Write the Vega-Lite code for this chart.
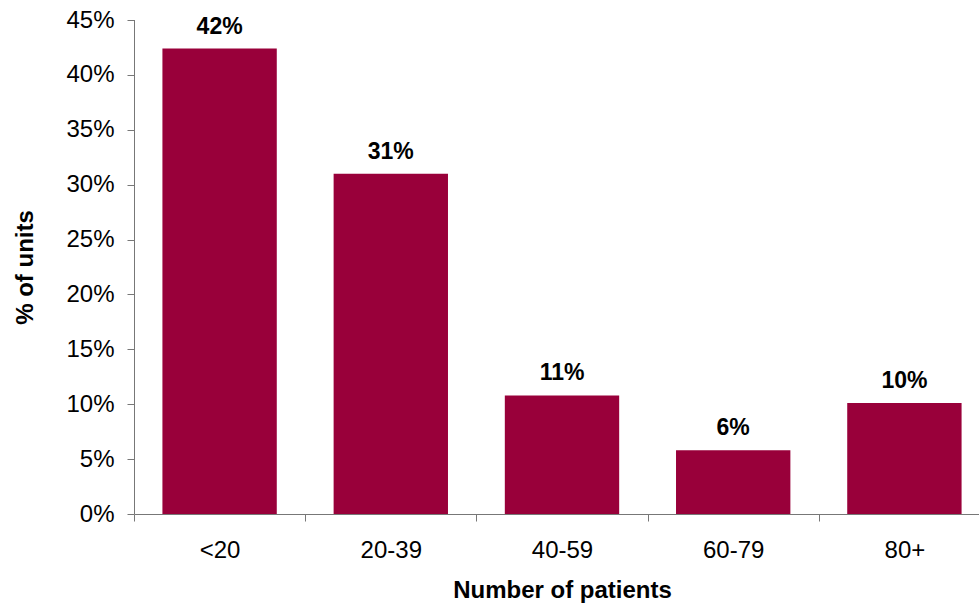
{
  "$schema": "https://vega.github.io/schema/vega-lite/v6.json",
  "width": 845,
  "height": 494,
  "autosize": {"type": "none"},
  "padding": {"left": 134, "top": 20, "right": 0, "bottom": 89},
  "background": "white",
  "config": {"view": {"stroke": null}, "font": "Liberation Sans"},
  "data": {
    "values": [
      {"group": "<20", "share": 0.424},
      {"group": "20-39", "share": 0.31},
      {"group": "40-59", "share": 0.108},
      {"group": "60-79", "share": 0.058},
      {"group": "80+", "share": 0.101}
    ]
  },
  "encoding": {
    "x": {
      "field": "group",
      "type": "nominal",
      "sort": null,
      "scale": {"range": [0, 856], "paddingInner": 0, "paddingOuter": 0},
      "axis": {
        "title": "Number of patients",
        "labelAngle": 0,
        "tickBand": "extent",
        "domainColor": "#777777",
        "tickColor": "#777777",
        "tickSize": 7,
        "labelFontSize": 24,
        "labelColor": "black",
        "labelPadding": 17,
        "titleFontSize": 24,
        "titleFontWeight": "bold",
        "titleColor": "black",
        "titlePadding": 16
      }
    },
    "y": {
      "field": "share",
      "type": "quantitative",
      "scale": {"domain": [0, 0.45], "nice": false},
      "axis": {
        "title": "% of units",
        "format": ".0%",
        "values": [0, 0.05, 0.1, 0.15, 0.2, 0.25, 0.3, 0.35, 0.4, 0.45],
        "grid": false,
        "domain": false,
        "tickColor": "#777777",
        "tickSize": 7,
        "labelFontSize": 24,
        "labelColor": "black",
        "labelPadding": 13,
        "titleFontSize": 24,
        "titleFontWeight": "bold",
        "titleColor": "black",
        "titlePadding": 28
      }
    }
  },
  "layer": [
    {"mark": {"type": "bar", "color": "#99003a", "width": {"band": 0.668}}},
    {
      "mark": {"type": "text", "fontSize": 23, "fontWeight": "bold", "baseline": "alphabetic", "dy": -15, "color": "black"},
      "encoding": {"text": {"field": "share", "format": ".0%"}}
    },
    {
      "mark": {"type": "rule", "color": "#777777", "strokeWidth": 1, "xOffset": 0.5},
      "encoding": {
        "x": {"datum": "<20", "type": "nominal", "bandPosition": 0},
        "y": {"datum": 0, "type": "quantitative"},
        "y2": {"datum": 0.45}
      }
    }
  ]
}
